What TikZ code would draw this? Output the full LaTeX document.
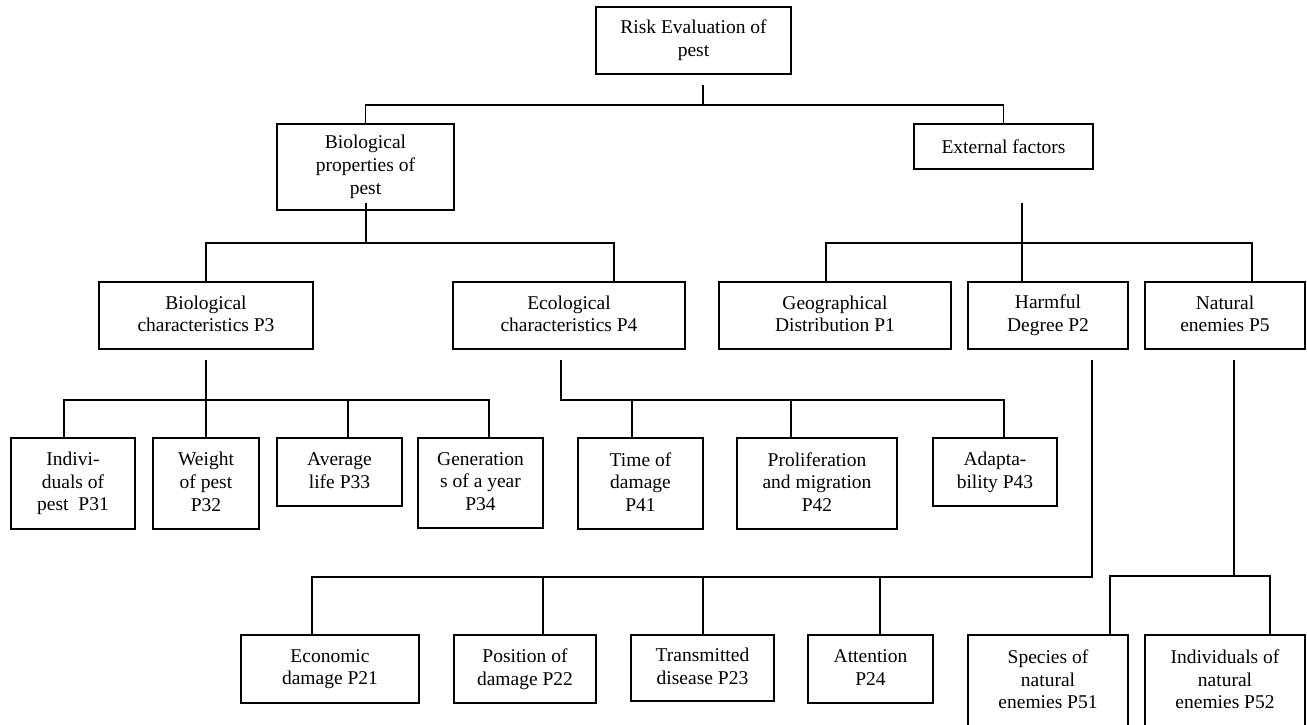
\documentclass[tikz,border=0pt]{standalone}
\usepackage{fontspec}
\setmainfont{Liberation Serif}
\newcommand\toprl{\rule{0pt}{18pt}}
\newcommand\botrl{\rule[-3.3pt]{0pt}{0pt}}
\begin{document}
\begin{tikzpicture}[x=1pt,y=-1pt,
  bx/.style={draw, line width=1.5pt, rectangle, inner sep=0pt, align=center,
    font=\fontsize{19.5}{22.7}\selectfont,
    execute at begin node=\toprl, execute at end node=\botrl},
  ln/.style={line width=1.35pt}]
\useasboundingbox (0,0) rectangle (1307,724);
\clip (0,0) rectangle (1307,724);
\fill[white] (0,0) rectangle (1307,724);
% nodes
\node[bx, minimum width=195, minimum height=67] (top) at (693.5,40.5) {Risk Evaluation of\\pest};
\node[bx, minimum width=177, minimum height=86] (bioprop) at (365.5,167) {Biological\\properties of\\pest};
\node[bx, minimum width=179, minimum height=45] (ext) at (1003.5,146.5) {External factors};
\node[bx, minimum width=214, minimum height=67] (biochar) at (206,315.5) {Biological\\characteristics P3};
\node[bx, minimum width=232, minimum height=67] (eco) at (569,315.5) {Ecological\\characteristics P4};
\node[bx, minimum width=232, minimum height=67] (geo) at (835,315.5) {Geographical\\Distribution P1};
\node[bx, minimum width=160, minimum height=67] (p2) at (1048,315.5) {Harmful\\Degree P2};
\node[bx, minimum width=160, minimum height=67] (p5) at (1225,315.5) {Natural\\enemies P5};
\node[bx, minimum width=124, minimum height=91] (p31) at (73,483.5) {Indivi-\\duals of\\pest\ \ P31};
\node[bx, minimum width=106, minimum height=91] (p32) at (206,483.5) {Weight\\of pest\\P32};
\node[bx, minimum width=125, minimum height=68] (p33) at (339.5,472) {Average\\life P33};
\node[bx, minimum width=125, minimum height=90] (p34) at (480.5,483) {Generation\\s of a year\\P34};
\node[bx, minimum width=125, minimum height=91] (p41) at (640.5,483.5) {Time of\\damage\\P41};
\node[bx, minimum width=160, minimum height=91] (p42) at (817,483.5) {Proliferation\\and migration\\P42};
\node[bx, minimum width=124, minimum height=68] (p43) at (995,472) {Adapta-\\bility P43};
\node[bx, minimum width=178, minimum height=68] (p21) at (330,669) {Economic\\damage P21};
\node[bx, minimum width=142, minimum height=68] (p22) at (525,669) {Position of\\damage P22};
\node[bx, minimum width=143, minimum height=66] (p23) at (702.5,668) {Transmitted\\disease P23};
\node[bx, minimum width=125, minimum height=68] (p24) at (870.5,669) {Attention\\P24};
\node[bx, minimum width=160, minimum height=92] (p51) at (1048,681) {Species of\\natural\\enemies P51};
\node[bx, minimum width=160, minimum height=92] (p52) at (1225,681) {Individuals of\\natural\\enemies P52};
% junction coordinates
\coordinate (t0) at (703,85);
\coordinate (a1) at (366,105);
\coordinate (b1) at (366,203);
\coordinate (b2) at (366,243);
\coordinate (b2r) at (614,243);
\coordinate (e0) at (1022,203);
\coordinate (e1) at (826,243);
\coordinate (e2) at (1252,243);
\coordinate (c0) at (206,360);
\coordinate (c1) at (64,400);
\coordinate (c2) at (489,400);
\coordinate (c3) at (348,400);
\coordinate (d0) at (561,360);
\coordinate (d1) at (561,400);
\coordinate (d2) at (1004,400);
\coordinate (d3) at (632,400);
\coordinate (d4) at (791,400);
\coordinate (f0) at (1092,360);
\coordinate (f1) at (1092,577);
\coordinate (f2) at (312,577);
\coordinate (f3) at (543,577);
\coordinate (f4) at (703,577);
\coordinate (f5) at (880,577);
\coordinate (g0) at (1234,360);
\coordinate (g1) at (1234,576);
\coordinate (g2) at (1110,576);
\coordinate (g3) at (1270,576);
% connectors
\draw[ln] (t0) -- (t0 |- a1);
\draw[ln] (bioprop.north) |- (a1) -| (ext.north);
\draw[ln] (b1) -- (b2);
\draw[ln] (biochar.north) |- (b2r) -- (b2r |- eco.north);
\draw[ln] (e0) -- (e0 |- p2.north);
\draw[ln] (e1 |- geo.north) -- (e1) -- (e2) -- (e2 |- p5.north);
\draw[ln] (c0) -- (c0 |- p32.north);
\draw[ln] (c1 |- p31.north) -- (c1) -- (c2) -- (c2 |- p34.north);
\draw[ln] (c3) -- (c3 |- p33.north);
\draw[ln] (d0) -- (d1) -- (d2) -- (d2 |- p43.north);
\draw[ln] (d3) -- (d3 |- p41.north);
\draw[ln] (d4) -- (d4 |- p42.north);
\draw[ln] (f0) -- (f1) -- (f2) -- (f2 |- p21.north);
\draw[ln] (f3) -- (f3 |- p22.north);
\draw[ln] (f4) -- (f4 |- p23.north);
\draw[ln] (f5) -- (f5 |- p24.north);
\draw[ln] (g0) -- (g1);
\draw[ln] (g2 |- p51.north) -- (g2) -- (g3) -- (g3 |- p52.north);
\end{tikzpicture}
\end{document}
